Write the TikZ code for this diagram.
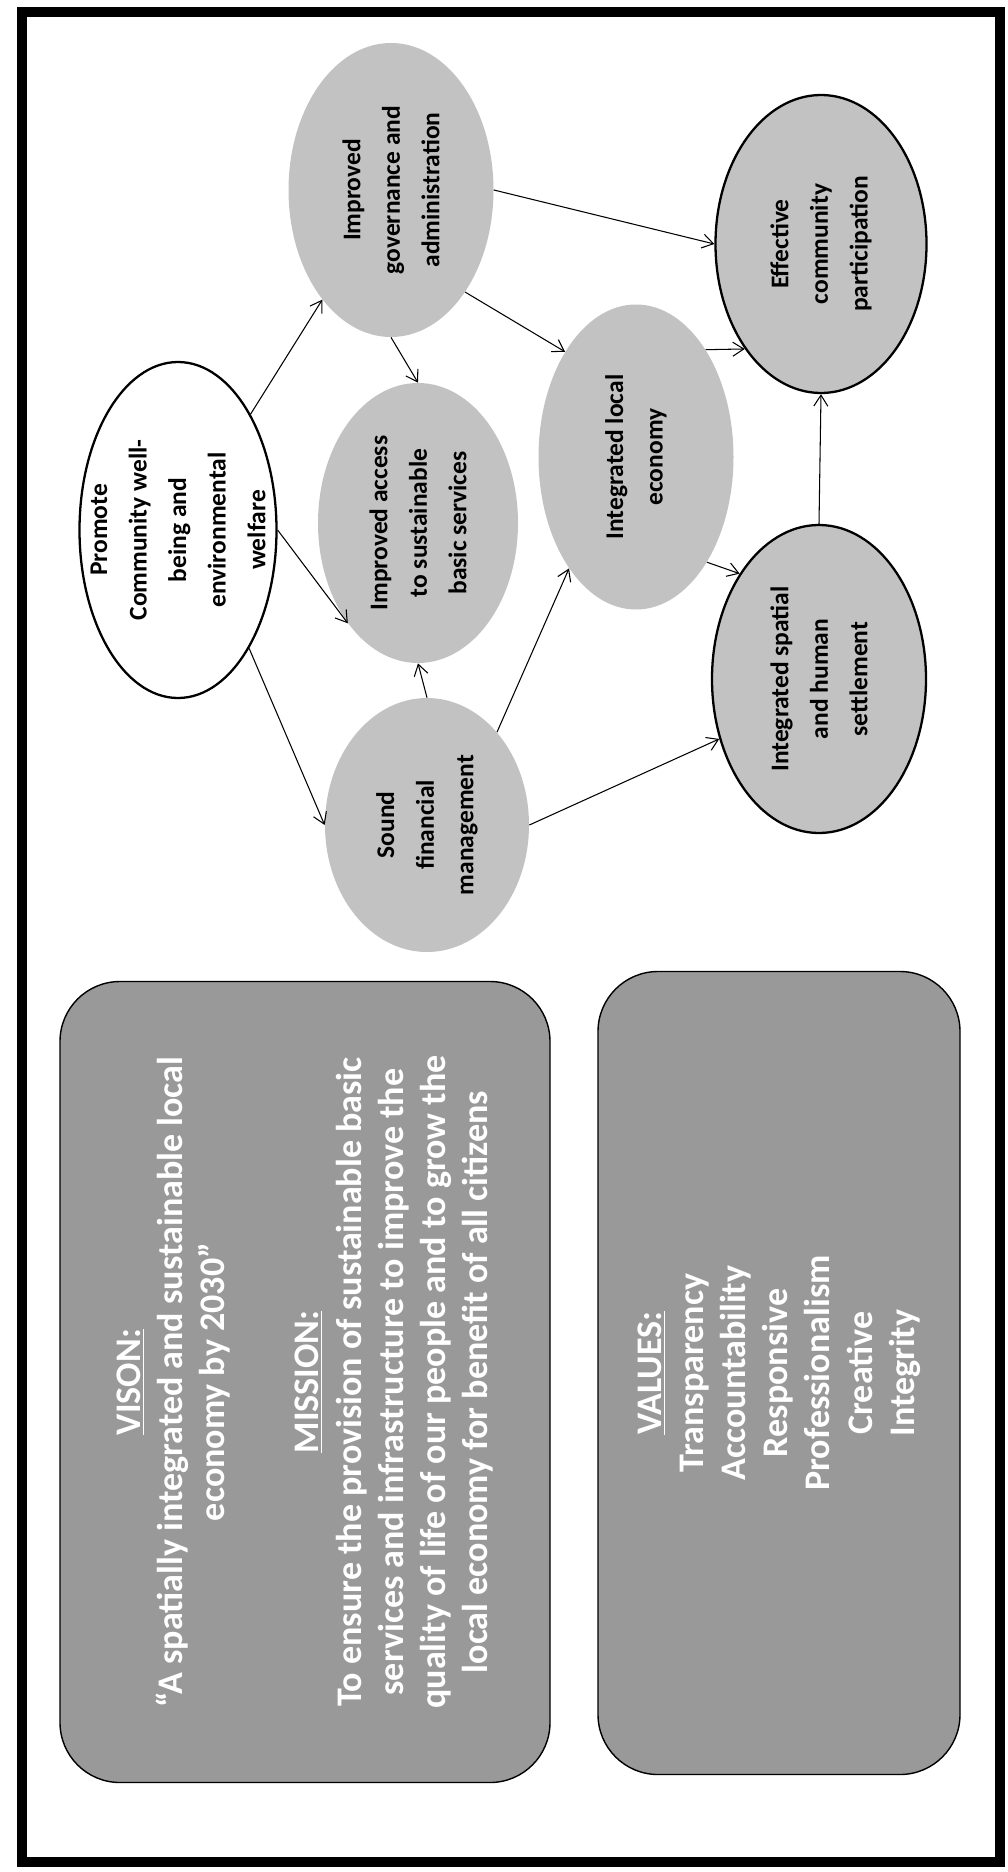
\documentclass[tikz,border=0pt]{standalone}
\usepackage{fontspec}
\setmainfont{Carlito}
\usetikzlibrary{shapes.geometric}
\usetikzlibrary{arrows.meta}
\tikzset{
bub/.style={ellipse,fill=black!24,draw=none,inner sep=0pt},
bubline/.style={bub,draw=black,line width=1.3pt},
bubtext/.style={rotate=90,align=center,inner sep=0pt,font=\bfseries\fontsize{14.5}{22.5}\selectfont},
panel/.style={draw=black,line width=0.8pt,fill=black!40,rounded corners=1.2cm,rotate=90,align=center,text=white,font=\bfseries\fontsize{20.5}{24}\selectfont},
link/.style={-{Straight Barb[length=2.2mm,width=2.8mm]},line width=0.6pt}
}

\begin{document}
\begin{tikzpicture}
\useasboundingbox (0,0) rectangle (20.16,-37.44);
\fill[white] (0,0) rectangle (20.16,-37.44);
\draw[line width=0.2cm] (0.44,-0.24) rectangle (20.0,-37.24);

\node[bub,minimum width=4.10cm,minimum height=5.88cm] (gov) at (7.82,-3.80) {};
\node[bub,fill=white,draw=black,line width=1.3pt,minimum width=3.94cm,minimum height=6.72cm] (promote) at (3.56,-10.60) {};
\node[bub,minimum width=4.00cm,minimum height=5.60cm] (access) at (8.36,-10.46) {};
\node[bub,minimum width=4.08cm,minimum height=5.08cm] (sound) at (8.54,-16.50) {};
\node[bub,minimum width=3.90cm,minimum height=6.10cm] (local) at (12.72,-9.14) {};
\node[bubline,minimum width=4.22cm,minimum height=5.96cm] (effective) at (16.42,-4.88) {};
\node[bubline,minimum width=4.28cm,minimum height=6.16cm] (spatial) at (16.38,-13.58) {};

\node[bubtext] (gov-t) at (gov) {Improved\\governance and\\administration};
\node[bubtext] (promote-t) at (promote) {Promote\\Community well-\\being and\\environmental\\welfare};
\node[bubtext] (access-t) at (access) {Improved access\\to sustainable\\basic services};
\node[bubtext] (sound-t) at (sound) {Sound\\financial\\management};
\node[bubtext] (local-t) at (local) {Integrated local\\economy};
\node[bubtext] (effective-t) at (effective) {Effective\\community\\participation};
\node[bubtext] (spatial-t) at (spatial) {Integrated spatial\\and human\\settlement};

\draw[link] (promote) -- (gov);
\draw[link] (promote.east) -- (access.235);
\draw[link] (promote.-59) -- (sound.west);
\draw[link] (gov.south) -- (access.north);
\draw[link] (gov.east) -- (effective.west);
\draw[link] (gov.-54) -- (local.124);
\draw[link] (sound.north) -- (access.south);
\draw[link] (sound.53) -- (local.239);
\draw[link] (sound.east) -- (spatial.211);
\draw[link] (local.57) -- (effective.234);
\draw[link] (local.-56) -- (spatial.127);
\draw[link] (spatial.north) -- (effective.south);

\node[panel,minimum width=16.02cm,minimum height=9.8cm] (vision) at (6.10,-27.64)
{\underline{VISON:}\\
“A spatially integrated and sustainable local\\
economy by 2030”\\[1.04cm]
\underline{MISSION:}\\
To ensure the provision of sustainable basic\\
services and infrastructure to improve the\\
quality of life of our people and to grow the\\
local economy for benefit of all citizens};
\node[panel,minimum width=16.06cm,minimum height=7.24cm] (values) at (15.58,-27.46)
{\underline{VALUES:}\\
Transparency\\
Accountability\\
Responsive\\
Professionalism\\
Creative\\
Integrity};
\end{tikzpicture}
\end{document}
